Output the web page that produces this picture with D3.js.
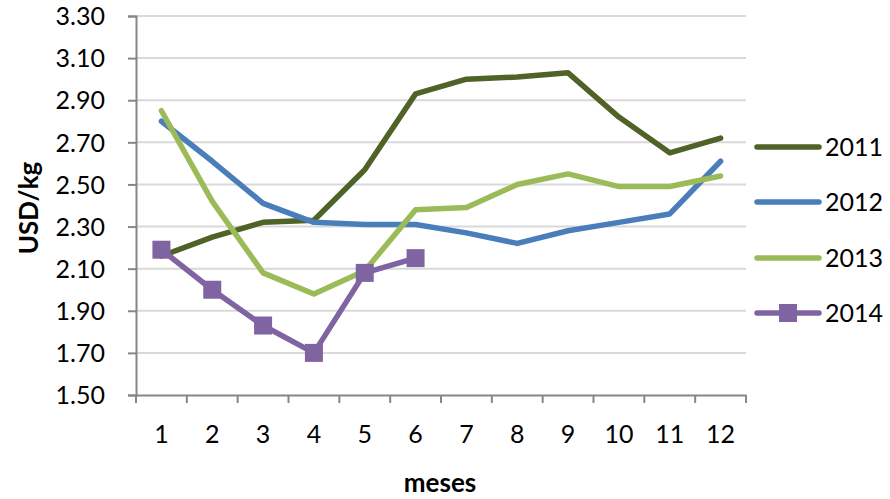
<!DOCTYPE html>
<html><head><meta charset="utf-8">
<script src="https://cdn.jsdelivr.net/npm/d3@7"></script>
<style>body{margin:0;background:#fff}svg{display:block}text{font-family:Lato,'Open Sans',sans-serif;fill:#000}</style>
</head><body>
<svg id="c" width="890" height="499"></svg>
<script>
const months = [1,2,3,4,5,6,7,8,9,10,11,12];
const yTicks = [1.5,1.7,1.9,2.1,2.3,2.5,2.7,2.9,3.1,3.3];
const seriesNames = ["2011","2012","2013","2014"];
const v2011 = [2.16,2.25,2.32,2.33,2.57,2.93,3.00,3.01,3.03,2.82,2.65,2.72];
const v2012 = [2.80,2.61,2.41,2.32,2.31,2.31,2.27,2.22,2.28,2.32,2.36,2.61];
const v2013 = [2.85,2.42,2.08,1.98,2.09,2.38,2.39,2.50,2.55,2.49,2.49,2.54];
const v2014 = [2.19,2.00,1.83,1.70,2.08,2.15];
const colors = ["#4F6228","#4A7EBB","#9BBB59","#8064A2"];

const svg = d3.select("#c");
const L=136, R=746, T=16, B=395;
const x = d3.scaleBand().domain(months).range([L,R]);
const y = d3.scaleLinear().domain([1.5,3.3]).range([B,T]);

// gridlines
svg.append("g").selectAll("line").data(yTicks.slice(1)).join("line")
  .attr("x1",L).attr("x2",R).attr("y1",d=>y(d)).attr("y2",d=>y(d))
  .attr("stroke","#D9D9D9").attr("stroke-width",2);

// y axis
const ya = svg.append("g").attr("transform",`translate(${L},0)`)
  .call(d3.axisLeft(y).tickValues(yTicks).tickFormat(d3.format(".2f")).tickSize(8).tickPadding(23));
ya.select(".domain").attr("stroke","#868686").attr("stroke-width",2);
ya.selectAll(".tick line").attr("stroke","#868686").attr("stroke-width",2);
ya.selectAll("text").style("font-size","25px").attr("dy","0.35em");

// x axis
const xa = svg.append("g").attr("transform",`translate(0,${B})`)
  .call(d3.axisBottom(x).tickSize(0).tickPadding(30));
xa.select(".domain").attr("stroke","#868686").attr("stroke-width",2);
xa.selectAll(".tick line").remove();
xa.selectAll("text").style("font-size","25px");
const bounds = months.map(m=>x(m)).concat([R]);
xa.selectAll(".bt").data(bounds).join("line").attr("class","bt")
  .attr("x1",d=>d).attr("x2",d=>d).attr("y1",0).attr("y2",8)
  .attr("stroke","#868686").attr("stroke-width",2);

// axis titles
svg.append("text").attr("x",440).attr("y",492).attr("text-anchor","middle")
  .style("font-size","26px").style("font-weight","bold").text("meses");
svg.append("text").attr("transform","translate(38,208) rotate(-90)").attr("text-anchor","middle")
  .style("font-size","26px").style("font-weight","bold").text("USD/kg");

// lines
const allSeries = [v2011,v2012,v2013,v2014];
const cx = i => x(months[i]) + x.bandwidth()/2;
const line = d3.line().x((d,i)=>cx(i)).y(d=>y(d));
allSeries.forEach((s,k)=>{
  svg.append("path").datum(s).attr("d",line).attr("fill","none")
    .attr("stroke",colors[k]).attr("stroke-width",5.5)
    .attr("stroke-linejoin","round").attr("stroke-linecap","round");
});
const ms = 18;
svg.append("g").selectAll("rect").data(v2014).join("rect")
  .attr("x",(d,i)=>cx(i)-ms/2).attr("y",d=>y(d)-ms/2).attr("width",ms).attr("height",ms)
  .attr("fill",colors[3]);

// legend
const ly = [147,202,258,313];
const lg = svg.append("g");
seriesNames.forEach((n,k)=>{
  lg.append("line").attr("x1",757).attr("x2",819).attr("y1",ly[k]).attr("y2",ly[k])
    .attr("stroke",colors[k]).attr("stroke-width",5.5).attr("stroke-linecap","round");
  if(k===3) lg.append("rect").attr("x",788-ms/2).attr("y",ly[k]-ms/2).attr("width",ms).attr("height",ms).attr("fill",colors[k]);
  lg.append("text").attr("x",825).attr("y",ly[k]).attr("dy","0.35em").style("font-size","25px").text(n);
});
</script>
</body></html>
